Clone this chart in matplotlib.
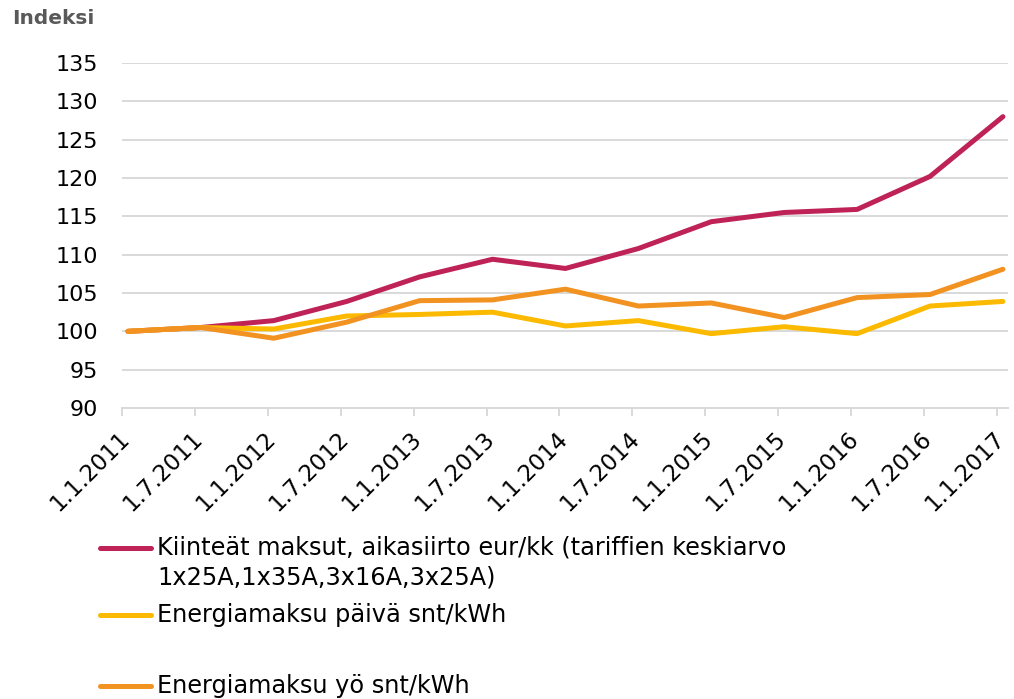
import numpy as np
import matplotlib
matplotlib.use("Agg")
import matplotlib.pyplot as plt
from matplotlib.lines import Line2D
import matplotlib.transforms as mtransforms

# puolivuosittaiset ajankohdat
dates = ["1.1.2011", "1.7.2011", "1.1.2012", "1.7.2012", "1.1.2013", "1.7.2013",
         "1.1.2014", "1.7.2014", "1.1.2015", "1.7.2015", "1.1.2016", "1.7.2016",
         "1.1.2017"]

kiinteat = [100.0, 100.5, 101.4, 103.9, 107.1, 109.4, 108.2, 110.8, 114.3, 115.5, 115.9, 120.2, 128.0]
paiva = [100.0, 100.5, 100.3, 102.0, 102.2, 102.5, 100.7, 101.4, 99.7, 100.6, 99.7, 103.3, 103.9]
yo = [100.0, 100.5, 99.1, 101.2, 104.0, 104.1, 105.5, 103.3, 103.7, 101.8, 104.4, 104.8, 108.1]

labels = ["Kiinteät maksut, aikasiirto eur/kk (tariffien keskiarvo\n1x25A,1x35A,3x16A,3x25A)",
          "Energiamaksu päivä snt/kWh",
          "Energiamaksu yö snt/kWh"]
colors = ["#BE2256", "#FBBA00", "#F29221"]
yticks = list(range(90, 136, 5))

fig = plt.figure(figsize=(10.14, 6.99), dpi=100)
ax = fig.add_axes([0.1203, 0.4163, 0.8738, 0.4936])

x = np.arange(len(dates))
for vals, c in zip([kiinteat, paiva, yo], colors):
    ax.plot(x, vals, color=c, lw=3.6, solid_capstyle="round", solid_joinstyle="round")

grid_c = "#D9D9D9"
ax.set_ylim(90, 135)
ax.set_yticks(yticks)
ax.set_xlim(-0.082, 12.07)
ax.set_xticks(x - 0.082)
ax.set_xticklabels(dates)
ax.yaxis.grid(True, color=grid_c, lw=1.4)
ax.set_axisbelow(True)
for s in ["top", "right", "left"]:
    ax.spines[s].set_visible(False)
ax.spines["bottom"].set_color(grid_c)
ax.spines["bottom"].set_linewidth(1.4)
ax.tick_params(axis="y", length=0, pad=17, labelsize=16, labelcolor="#000000")
ax.tick_params(axis="x", length=6, width=1.4, color=grid_c, pad=8, labelsize=16.5)

offset = mtransforms.ScaledTranslation(-4 / 100, 0, fig.dpi_scale_trans)
for lab in ax.get_xticklabels():
    lab.set_rotation(45)
    lab.set_ha("right")
    lab.set_va("top")
    lab.set_rotation_mode("anchor")
    lab.set_transform(lab.get_transform() + offset)

fig.text(12 / 1014, 1 - 18 / 699, "Indeksi", fontsize=14.5, fontweight="bold",
         color="#595959", va="center", ha="left")

# selite käsin kuvan alaosaan
leg_y = [548, 615, 686]
for lab, c, yy in zip(labels, colors, leg_y):
    yf = 1 - yy / 699
    fig.add_artist(Line2D([100 / 1014, 151 / 1014], [yf, yf], color=c, lw=3.6,
                          solid_capstyle="round", transform=fig.transFigure))
    fig.text(157 / 1014, yf + 12 / 699, lab, fontsize=17.3, va="top", ha="left",
             linespacing=1.3)

fig.savefig("out.png", dpi=100)
